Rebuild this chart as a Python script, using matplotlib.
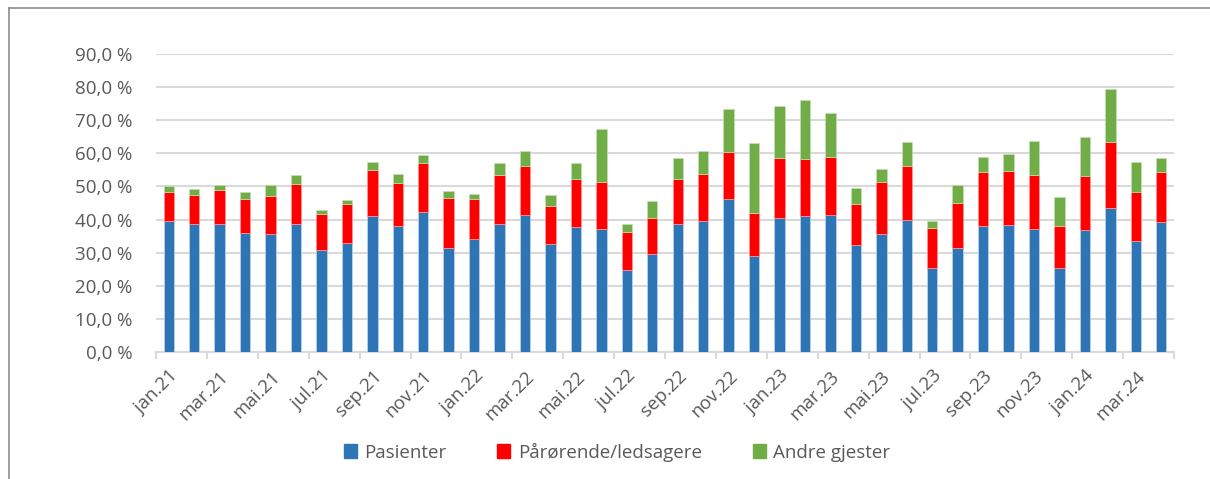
import matplotlib.pyplot as plt
import numpy as np
from matplotlib.ticker import FuncFormatter
from matplotlib.lines import Line2D

plt.rcParams['font.family'] = ['Open Sans', 'DejaVu Sans']

months = ['jan', 'feb', 'mar', 'apr', 'mai', 'jun', 'jul', 'aug', 'sep', 'okt', 'nov', 'des']
labels = ['%s.%d' % (m, y) for y in (21, 22, 23) for m in months] + ['jan.24', 'feb.24', 'mar.24', 'apr.24']

# andel (%) per måned
pasienter = [39.7, 38.8, 38.6, 35.9, 35.7, 38.8, 30.9, 32.8, 41.1, 38.1, 42.4, 31.5,
             34.0, 38.6, 41.4, 32.7, 37.7, 37.0, 24.8, 29.6, 38.7, 39.5, 46.3, 29.1,
             40.5, 41.1, 41.4, 32.3, 35.7, 40.0, 25.4, 31.5, 38.2, 38.4, 37.0, 25.4,
             36.9, 43.6, 33.4, 39.4]
parorende = [8.7, 8.7, 10.3, 10.3, 11.4, 11.8, 10.8, 11.9, 13.8, 12.9, 14.7, 15.0,
             12.2, 14.8, 14.7, 11.4, 14.5, 14.3, 11.4, 10.8, 13.5, 14.4, 14.0, 13.0,
             18.1, 17.2, 17.5, 12.4, 15.5, 16.1, 12.0, 13.6, 16.1, 16.2, 16.4, 12.6,
             16.4, 19.7, 14.9, 14.9]
andre = [1.6, 1.7, 1.6, 2.2, 3.2, 3.0, 1.1, 1.3, 2.5, 2.9, 2.4, 2.2,
         1.4, 3.6, 4.6, 3.4, 4.8, 15.9, 2.6, 5.1, 6.4, 6.8, 13.2, 20.9,
         15.7, 17.9, 13.3, 4.9, 4.2, 7.3, 2.1, 5.2, 4.6, 5.2, 10.2, 8.7,
         11.5, 16.1, 9.1, 4.2]

blue = '#2E75B6'
red = '#FF0000'
green = '#70AD47'
grid_col = '#D9D9D9'
text_col = '#595959'

W, H = 1210, 479
fig = plt.figure(figsize=(W / 100, H / 100), dpi=100)
ax = fig.add_axes([156 / W, (H - 352) / H, (1174 - 156) / W, (352 - 54) / H])

x = np.arange(len(labels))
p = np.array(pasienter)
r = np.array(parorende)
a = np.array(andre)
bw = 0.41
ax.bar(x, p, bw, color=blue, edgecolor='#BDD7EE', linewidth=0.5, zorder=3)
ax.bar(x, r, bw, bottom=p, color=red, edgecolor='#FF9999', linewidth=0.5, zorder=3)
ax.bar(x, a, bw, bottom=p + r, color=green, edgecolor='#C5E0B4', linewidth=0.5, zorder=3)

ax.set_xlim(-0.5, len(labels) - 0.5)
ax.set_ylim(0, 90)
ax.set_yticks(np.arange(0, 91, 10))
ax.yaxis.set_major_formatter(FuncFormatter(lambda v, pos: ('%.1f %%' % v).replace('.', ',')))
ax.grid(axis='y', color=grid_col, linewidth=1.5, zorder=0)
ax.tick_params(axis='y', length=0, pad=17, labelsize=13.5, labelcolor=text_col)

ax.set_xticks(x[::2])
ax.set_xticklabels(labels[::2], rotation=45, ha='right', rotation_mode='anchor')
ax.set_xticks(np.arange(-0.5, len(labels), 2), minor=True)
ax.tick_params(axis='x', which='major', length=0, pad=11, labelsize=13.5, labelcolor=text_col)
ax.tick_params(axis='x', which='minor', length=5, width=1.5, color=grid_col)

for s in ['top', 'right', 'left']:
    ax.spines[s].set_visible(False)
ax.spines['bottom'].set_color(grid_col)
ax.spines['bottom'].set_linewidth(1.5)

handles = [plt.Rectangle((0, 0), 1, 1, color=c) for c in (blue, red, green)]
fig.legend(handles, ['Pasienter', 'Pårørende/ledsagere', 'Andre gjester'],
           loc='center', bbox_to_anchor=(617 / W, 27 / H), ncol=3, frameon=False,
           fontsize=13.5, labelcolor=text_col, handlelength=0.7, handleheight=0.7,
           handletextpad=0.4, columnspacing=2.7)

# ramme rundt diagrammet
fig.add_artist(Line2D([8.5 / W, 8.5 / W], [0, 1 - 7.5 / H], color='#8C8C8C', linewidth=1.2))
fig.add_artist(Line2D([8.5 / W, 1], [1 - 7.5 / H, 1 - 7.5 / H], color='#8C8C8C', linewidth=1.2))

fig.savefig('out.png', dpi=100)
